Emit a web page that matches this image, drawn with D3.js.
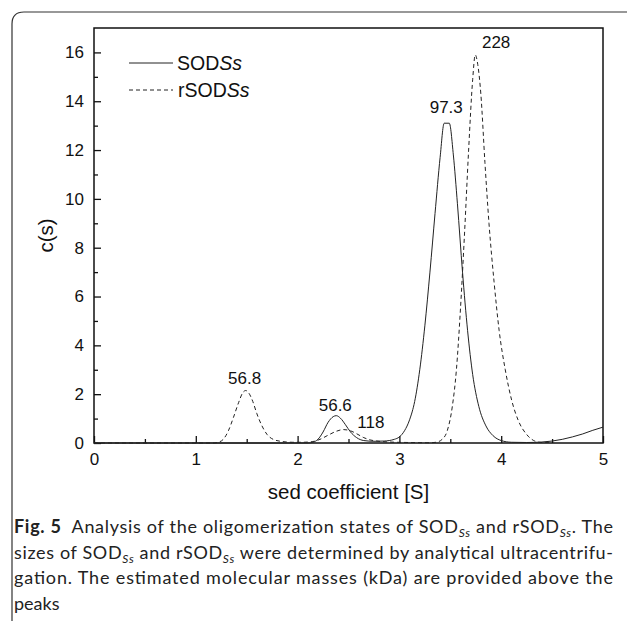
<!DOCTYPE html>
<html>
<head>
<meta charset="utf-8">
<script src="https://cdn.jsdelivr.net/npm/d3@7"></script>
<style>
  body { margin: 0; background: #fff; }
  svg { display: block; }
</style>
</head>
<body>
<svg id="chart" width="627" height="621"></svg>
<script>
// c(s) distributions: [sed coefficient, c(s)]
var sodSs = [
  [0, 0], [2.10, 0], [2.15, 0.03], [2.20, 0.15], [2.25, 0.45], [2.30, 0.85], [2.35, 1.08],
  [2.38, 1.12], [2.42, 1.02], [2.47, 0.75], [2.52, 0.45], [2.58, 0.22], [2.65, 0.1],
  [2.75, 0.07], [2.85, 0.08], [2.95, 0.15], [3.00, 0.25], [3.05, 0.5], [3.10, 0.95],
  [3.15, 1.7], [3.20, 3.0], [3.25, 4.8], [3.30, 7.0], [3.35, 9.4], [3.40, 11.7],
  [3.44, 13.1], [3.49, 13.1], [3.53, 11.8], [3.57, 9.8], [3.62, 7.0], [3.67, 4.6],
  [3.72, 2.8], [3.78, 1.5], [3.85, 0.7], [3.92, 0.3], [4.00, 0.1], [4.10, 0.03],
  [4.25, 0.02], [4.40, 0.04], [4.50, 0.08], [4.60, 0.15], [4.70, 0.25], [4.80, 0.37],
  [4.90, 0.52], [5.00, 0.65]
];
var rsodSs = [
  [0, 0], [1.18, 0], [1.22, 0.03], [1.27, 0.15], [1.32, 0.5], [1.37, 1.05], [1.42, 1.65],
  [1.46, 2.05], [1.49, 2.15], [1.52, 2.05], [1.56, 1.7], [1.60, 1.2], [1.65, 0.7],
  [1.70, 0.35], [1.76, 0.15], [1.85, 0.06], [1.95, 0.03], [2.05, 0.03], [2.15, 0.06],
  [2.22, 0.15], [2.30, 0.32], [2.38, 0.48], [2.45, 0.55], [2.52, 0.5], [2.58, 0.38],
  [2.65, 0.22], [2.72, 0.12], [2.80, 0.07], [2.90, 0.04], [3.10, 0.02], [3.30, 0.01],
  [3.36, 0.03], [3.42, 0.15], [3.47, 0.5], [3.52, 1.5], [3.56, 3.0], [3.60, 5.5],
  [3.64, 8.6], [3.68, 12.0], [3.72, 14.9], [3.745, 15.9], [3.77, 15.5], [3.80, 14.3],
  [3.84, 11.5], [3.88, 9.0], [3.93, 6.6], [3.98, 4.6], [4.04, 3.0], [4.10, 1.8],
  [4.17, 0.9], [4.25, 0.35], [4.33, 0.08], [4.40, 0.02], [4.48, 0.03]
];

// molecular masses (kDa) written above the peaks
var peakLabels = [
  { s: 1.48, c: 2.4, text: "56.8" },
  { s: 2.37, c: 1.3, text: "56.6" },
  { s: 2.72, c: 0.6, text: "118" },
  { s: 3.46, c: 13.5, text: "97.3" },
  { s: 3.95, c: 16.2, text: "228" }
];

var xTicks = [0, 1, 2, 3, 4, 5];
var yTicks = [0, 2, 4, 6, 8, 10, 12, 14, 16];

var legendItems = [
  { name: "SOD", sub: "Ss", dash: null },
  { name: "rSOD", sub: "Ss", dash: "4,3" }
];

var svg = d3.select("#chart");

// card frame (top + left border with rounded corner)
svg.append("path")
  .attr("d", "M12,621 L12,24 Q12,12 24,12 L627,12")
  .attr("fill", "none")
  .attr("stroke", "#333")
  .attr("stroke-width", 1.2);

var margin = { left: 94, right: 603, top: 28, bottom: 443 };

var x = d3.scaleLinear().domain([0, 5]).range([margin.left, margin.right]);
var y = d3.scaleLinear().domain([0, 17]).range([margin.bottom, margin.top]);

var g = svg.append("g");

// minor ticks
g.append("g")
  .attr("transform", "translate(0," + margin.bottom + ")")
  .call(d3.axisBottom(x).tickValues(d3.range(0.5, 5, 1)).tickSize(-4).tickFormat(""))
  .call(a => a.select(".domain").remove());
g.append("g")
  .attr("transform", "translate(" + margin.left + ",0)")
  .call(d3.axisLeft(y).tickValues(d3.range(1, 17, 2)).tickSize(-4).tickFormat(""))
  .call(a => a.select(".domain").remove());

// major ticks + labels
var xAxis = g.append("g")
  .attr("transform", "translate(0," + margin.bottom + ")")
  .call(d3.axisBottom(x).tickValues(xTicks).tickSize(-7).tickPadding(10).tickFormat(d3.format("d")));
xAxis.select(".domain").remove();

var yAxis = g.append("g")
  .attr("transform", "translate(" + margin.left + ",0)")
  .call(d3.axisLeft(y).tickValues(yTicks).tickSize(-7).tickPadding(10).tickFormat(d3.format("d")));
yAxis.select(".domain").remove();

g.selectAll(".tick text")
  .attr("font-family", "Liberation Sans, Arial, sans-serif")
  .attr("font-size", 17)
  .attr("fill", "#111");
g.selectAll(".tick line").attr("stroke", "#111").attr("stroke-width", 1.3);

// plot frame
g.append("rect")
  .attr("x", margin.left)
  .attr("y", margin.top)
  .attr("width", margin.right - margin.left)
  .attr("height", margin.bottom - margin.top)
  .attr("fill", "none")
  .attr("stroke", "#111")
  .attr("stroke-width", 1.5);

var line = d3.line()
  .x(d => x(d[0]))
  .y(d => y(d[1]))
  .curve(d3.curveMonotoneX);

g.append("path")
  .datum(rsodSs)
  .attr("d", line)
  .attr("fill", "none")
  .attr("stroke", "#222")
  .attr("stroke-width", 1)
  .attr("stroke-dasharray", "4,3");

g.append("path")
  .datum(sodSs)
  .attr("d", line)
  .attr("fill", "none")
  .attr("stroke", "#222")
  .attr("stroke-width", 1);

g.selectAll(".peak")
  .data(peakLabels)
  .enter()
  .append("text")
  .attr("class", "peak")
  .attr("x", d => x(d.s))
  .attr("y", d => y(d.c))
  .attr("text-anchor", "middle")
  .attr("font-family", "Liberation Sans, Arial, sans-serif")
  .attr("font-size", 17)
  .attr("fill", "#111")
  .text(d => d.text);

// legend
var legend = g.selectAll(".legend")
  .data(legendItems)
  .enter()
  .append("g")
  .attr("class", "legend")
  .attr("transform", (d, i) => "translate(129," + (63 + i * 27) + ")");

legend.append("line")
  .attr("x1", 0).attr("x2", 44)
  .attr("stroke", "#222")
  .attr("stroke-width", 1)
  .attr("stroke-dasharray", d => d.dash);

var lt = legend.append("text")
  .attr("x", d => d.dash ? 49 : 48)
  .attr("dy", "0.36em")
  .attr("font-family", "Liberation Sans, Arial, sans-serif")
  .attr("font-size", 19.5)
  .attr("fill", "#111");
lt.append("tspan").text(d => d.name);
lt.append("tspan").attr("font-style", "italic").text(d => d.sub);

// axis titles
svg.append("text")
  .attr("x", (margin.left + margin.right) / 2)
  .attr("y", 499)
  .attr("text-anchor", "middle")
  .attr("font-family", "Liberation Sans, Arial, sans-serif")
  .attr("font-size", 20.5)
  .attr("fill", "#111")
  .text("sed coefficient [S]");

svg.append("text")
  .attr("transform", "translate(53," + y(8.5) + ") rotate(-90)")
  .attr("text-anchor", "middle")
  .attr("font-family", "Liberation Sans, Arial, sans-serif")
  .attr("font-size", 20.5)
  .attr("fill", "#111")
  .text("c(s)");

// caption
var captionLines = [
  [["b", "Fig. 5"], ["t", "  Analysis of the oligomerization states of SOD"], ["s", "Ss"], ["t", " and rSOD"], ["s", "Ss"], ["t", ". The"]],
  [["t", "sizes of SOD"], ["s", "Ss"], ["t", " and rSOD"], ["s", "Ss"], ["t", " were determined by analytical ultracentrifu-"]],
  [["t", "gation. The estimated molecular masses (kDa) are provided above the"]],
  [["t", "peaks"]]
];

var cap = svg.append("g")
  .attr("font-family", "Lato, Open Sans, sans-serif")
  .attr("font-size", 18)
  .attr("fill", "#222");

captionLines.forEach(function(parts, i) {
  var t = cap.append("text")
    .attr("x", 14)
    .attr("y", 533 + i * 25.5)
    .attr("xml:space", "preserve");
  parts.forEach(function(p, j) {
    var ts = t.append("tspan").text(p[1]);
    if (p[0] === "b") ts.attr("font-weight", "bold");
    if (p[0] === "s") ts.attr("font-size", 12).attr("font-style", "italic").attr("dy", 4);
    if (p[0] === "t" && j > 0 && parts[j - 1][0] === "s") ts.attr("dy", -4);
  });
  if (i < captionLines.length - 1) {
    t.attr("textLength", 599).attr("lengthAdjust", "spacing");
  }
});
</script>
</body>
</html>
